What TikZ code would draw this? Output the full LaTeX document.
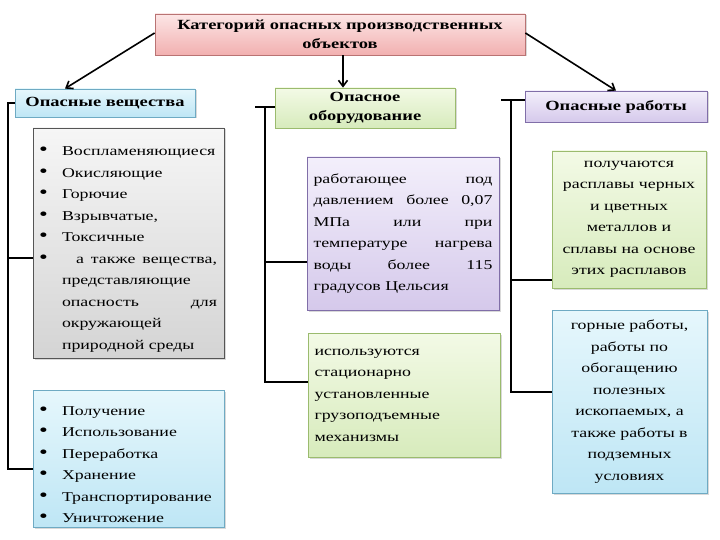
\documentclass[tikz,border=0pt]{standalone}
\usepackage{fontspec}
\setmainfont{Liberation Serif}[FakeStretch=1.32]
\usetikzlibrary{arrows.meta,positioning,calc,shadows}
\definecolor{katTop}{RGB}{252,230,230}
\definecolor{katBot}{RGB}{242,176,176}
\definecolor{katLn}{RGB}{185,115,115}
\definecolor{bluTop}{RGB}{230,247,252}
\definecolor{bluBot}{RGB}{190,230,245}
\definecolor{bluLn}{RGB}{110,170,195}
\definecolor{grnTop}{RGB}{243,250,230}
\definecolor{grnBot}{RGB}{215,235,188}
\definecolor{grnLn}{RGB}{155,187,110}
\definecolor{vioTop}{RGB}{243,239,251}
\definecolor{vioBot}{RGB}{213,201,235}
\definecolor{vioLn}{RGB}{128,110,168}
\definecolor{gryTop}{RGB}{246,246,246}
\definecolor{gryBot}{RGB}{212,212,212}
\definecolor{gryLn}{RGB}{85,85,85}
\newcommand{\bitem}{\par\noindent\hangindent=22pt\hangafter=1\hbox to 22pt{\hspace{-1pt}{\fontsize{19}{19}\selectfont\textbullet}\hfil}}
\tikzset{
  box/.style={rectangle,line width=0.8pt,drop shadow={opacity=0.3,shadow xshift=1.5pt,shadow yshift=-1.5pt}},
  tnode/.style={box,draw=katLn,top color=katTop,bottom color=katBot,minimum width=370pt,minimum height=41pt,inner sep=1pt,align=center,font=\bfseries\fontsize{14}{19}\selectfont},
  hnode/.style={box,minimum width=180pt,inner sep=1pt,align=center,font=\bfseries\fontsize{14}{19}\selectfont},
  lnode/.style={box,inner xsep=7pt,inner ysep=2pt,font=\fontsize{13.5}{21.5}\selectfont},
  blu/.style={draw=bluLn,top color=bluTop,bottom color=bluBot},
  grn/.style={draw=grnLn,top color=grnTop,bottom color=grnBot},
  vio/.style={draw=vioLn,top color=vioTop,bottom color=vioBot},
  gry/.style={draw=gryLn,top color=gryTop,bottom color=gryBot},
  de/.style={-{Straight Barb[length=6pt,width=9pt]},line width=1.6pt},
  be/.style={line width=2.8pt}
}
\begin{document}
\begin{tikzpicture}[x=1pt,y=-1pt]
\useasboundingbox (0,0) rectangle (720,540);
\node[tnode] (kat) at (340,34.5) {Категорий опасных производственных\\объектов};
\node[hnode,blu,minimum height=28pt] (hdrA) at (105,103) {Опасные вещества};
\node[hnode,grn,minimum height=40pt] (hdrB) at (365,108) {Опасное\\оборудование};
\node[hnode,vio,minimum width=182pt,minimum height=31pt] (hdrC) at (616,106.5) {Опасные работы};
\node[lnode,gry,text width=177pt,minimum height=230pt,align=justify] (boxA1) at (128.5,243) {%
\bitem Воспламеняющиеся
\bitem Окисляющие
\bitem Горючие
\bitem Взрывчатые,
\bitem Токсичные
\bitem\ \ а также вещества,\linebreak представляющие\newline опасность для\linebreak окружающей\newline природной среды\par};
\node[lnode,blu,text width=177pt,minimum height=137pt,align=justify] (boxA2) at (128.5,458.5) {%
\bitem Получение
\bitem Использование
\bitem Переработка
\bitem Хранение
\bitem Транспортирование
\bitem Уничтожение\par};
\node[lnode,vio,text width=179pt,inner xsep=6.5pt,minimum height=153pt,align=justify] (boxB1) at (403,233.5) {%
работающее под\linebreak давлением более 0,07\linebreak МПа или при\linebreak температуре нагрева\linebreak воды более 115\linebreak градусов Цельсия};
\node[lnode,grn,text width=179pt,inner xsep=6.5pt,minimum height=124pt,align=left] (boxB2) at (404,395) {%
используются\\стационарно\\установленные\\грузоподъемные\\механизмы};
\node[lnode,grn,text width=146pt,inner xsep=4pt,minimum height=137pt,align=center] (boxC1) at (629,219.5) {%
получаются\\расплавы черных\\и цветных\\металлов и\\сплавы на основе\\этих расплавов};
\node[lnode,blu,text width=147pt,inner xsep=4pt,minimum height=183pt,align=center] (boxC2) at (629.5,401.5) {%
горные работы,\\работы по\\обогащению\\полезных\\ископаемых, а\\также работы в\\подземных\\условиях};
% arrows from the title
\draw[de] ([yshift=1.5pt]kat.west) -- ([xshift=-40pt]hdrA.north);
\draw[de] ([xshift=3pt]kat.south) -- ([xshift=3pt]kat.south |- hdrB.north);
\draw[de] ([yshift=1.5pt]kat.east) -- (hdrC.north);
% brackets
\draw[be] (hdrA.west) -| (8,469) -- ([yshift=-10.5pt]boxA2.west);
\draw[be] (8,258) -- ([yshift=-15pt]boxA1.west);
\draw[be] (255,107) -- (hdrB.west |- 0,107);
\draw[be] (265,107) |- ([yshift=-28.5pt]boxB1.west);
\draw[be] (265,262) |- ([yshift=13pt]boxB2.west);
\draw[be] (501,100) -- (hdrC.west |- 0,100);
\draw[be] (511,100) |- ([yshift=-60.5pt]boxC1.west);
\draw[be] (511,280) |- ([yshift=9.5pt]boxC2.west);
\end{tikzpicture}
\end{document}
